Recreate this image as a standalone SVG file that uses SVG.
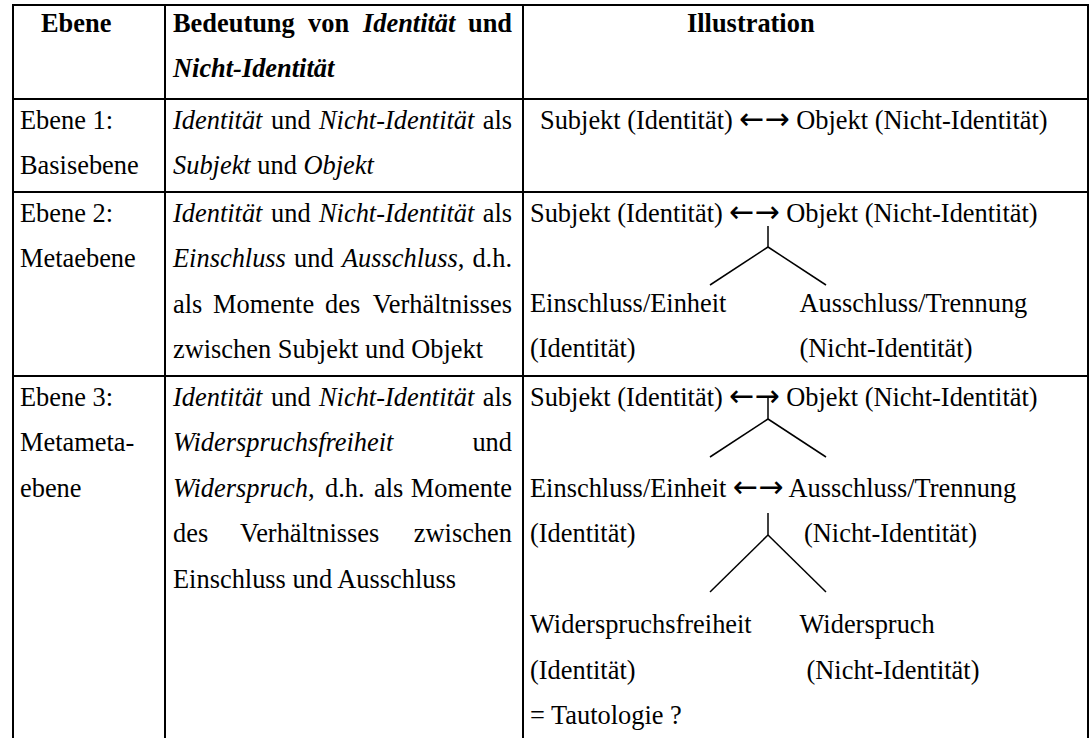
<svg xmlns="http://www.w3.org/2000/svg" width="1092" height="738" viewBox="0 0 1092 738">
<style>
text{font-family:"Liberation Serif","DejaVu Serif",serif;font-size:26.4px;fill:#000}
.b{font-weight:bold}
.i{font-style:italic}
.ar{font-family:"DejaVu Sans",sans-serif;font-size:30px}
#grid line{stroke:#000;stroke-width:2}
#connectors line{stroke:#000;stroke-width:1.5}
</style>
<rect width="1092" height="738" fill="#fff"/>
<g id="grid">
<line x1="12" y1="5" x2="1089" y2="5"/>
<line x1="13" y1="4" x2="13" y2="738"/>
<line x1="1088" y1="4" x2="1088" y2="738"/>
<line x1="165" y1="5" x2="165" y2="738"/>
<line x1="523" y1="5" x2="523" y2="738"/>
<line x1="13" y1="99" x2="1088" y2="99"/>
<line x1="13" y1="192" x2="1088" y2="192"/>
<line x1="13" y1="376" x2="1088" y2="376"/>
</g>
<g id="header">
<text class="b" x="41" y="31.5">Ebene</text>
<text class="b" x="173" y="31.5">Bedeutung</text>
<text class="b" x="308" y="31.5">von</text>
<text class="b i" x="363" y="31.5">Identität</text>
<text class="b" x="512" y="31.5" text-anchor="end">und</text>
<text class="b i" x="173" y="77">Nicht-Identität</text>
<text class="b" x="687" y="31.5">Illustration</text>
</g>
<g id="row1">
<text x="20" y="128.5">Ebene 1:</text>
<text x="20" y="174">Basisebene</text>
<text class="i" x="173" y="128.5">Identität</text>
<text x="271" y="128.5">und</text>
<text class="i" x="319" y="128.5">Nicht-Identität</text>
<text x="512" y="128.5" text-anchor="end">als</text>
<text x="173" y="174"><tspan class="i">Subjekt</tspan> und <tspan class="i">Objekt</tspan></text>
<text x="540" y="128.5">Subjekt (Identität) <tspan class="ar">←→</tspan> Objekt (Nicht-Identität)</text>
</g>
<g id="row2">
<text x="20" y="221.5">Ebene 2:</text>
<text x="20" y="267">Metaebene</text>
<text class="i" x="173" y="221.5">Identität</text>
<text x="271" y="221.5">und</text>
<text class="i" x="319" y="221.5">Nicht-Identität</text>
<text x="512" y="221.5" text-anchor="end">als</text>
<text class="i" x="173" y="267">Einschluss</text>
<text x="294" y="267">und</text>
<text x="342" y="267"><tspan class="i">Ausschluss</tspan>,</text>
<text x="512" y="267" text-anchor="end">d.h.</text>
<text x="173" y="312.5">als</text>
<text x="213" y="312.5">Momente</text>
<text x="325" y="312.5">des</text>
<text x="512" y="312.5" text-anchor="end">Verhältnisses</text>
<text x="173" y="358">zwischen Subjekt und Objekt</text>
<text x="530" y="221.5">Subjekt (Identität) <tspan class="ar">←→</tspan> Objekt (Nicht-Identität)</text>
<text x="530" y="311.5">Einschluss/Einheit</text>
<text x="799.5" y="311.5">Ausschluss/Trennung</text>
<text x="530" y="357">(Identität)</text>
<text x="799.5" y="357">(Nicht-Identität)</text>
</g>
<g id="row3">
<text x="20" y="405.5">Ebene 3:</text>
<text x="20" y="451">Metameta-</text>
<text x="20" y="496.5">ebene</text>
<text class="i" x="173" y="405.5">Identität</text>
<text x="271" y="405.5">und</text>
<text class="i" x="319" y="405.5">Nicht-Identität</text>
<text x="512" y="405.5" text-anchor="end">als</text>
<text class="i" x="173" y="451">Widerspruchsfreiheit</text>
<text x="512" y="451" text-anchor="end">und</text>
<text x="173" y="496.5"><tspan class="i">Widerspruch</tspan>,</text>
<text x="325" y="496.5">d.h.</text>
<text x="374" y="496.5">als</text>
<text x="512" y="496.5" text-anchor="end">Momente</text>
<text x="173" y="542">des</text>
<text x="240" y="542">Verhältnisses</text>
<text x="512" y="542" text-anchor="end">zwischen</text>
<text x="173" y="587.5">Einschluss und Ausschluss</text>
<text x="530" y="405.5">Subjekt (Identität) <tspan class="ar">←→</tspan> Objekt (Nicht-Identität)</text>
<text x="530" y="496.5">Einschluss/Einheit <tspan class="ar">←→</tspan> Ausschluss/Trennung</text>
<text x="530" y="542">(Identität)</text>
<text x="804" y="542">(Nicht-Identität)</text>
<text x="530" y="633">Widerspruchsfreiheit</text>
<text x="799.5" y="633">Widerspruch</text>
<text x="530" y="678.5">(Identität)</text>
<text x="806.5" y="678.5">(Nicht-Identität)</text>
<text x="530" y="724">= Tautologie ?</text>
</g>
<g id="connectors">
<line x1="768" y1="226" x2="768" y2="247"/>
<line x1="768" y1="247" x2="710" y2="285"/>
<line x1="768" y1="247" x2="826" y2="285"/>
<line x1="768" y1="398" x2="768" y2="419"/>
<line x1="768" y1="419" x2="710" y2="457"/>
<line x1="768" y1="419" x2="826" y2="457"/>
<line x1="768" y1="513" x2="768" y2="535"/>
<line x1="768" y1="535" x2="710" y2="592"/>
<line x1="768" y1="535" x2="826" y2="592"/>
</g>
</svg>
